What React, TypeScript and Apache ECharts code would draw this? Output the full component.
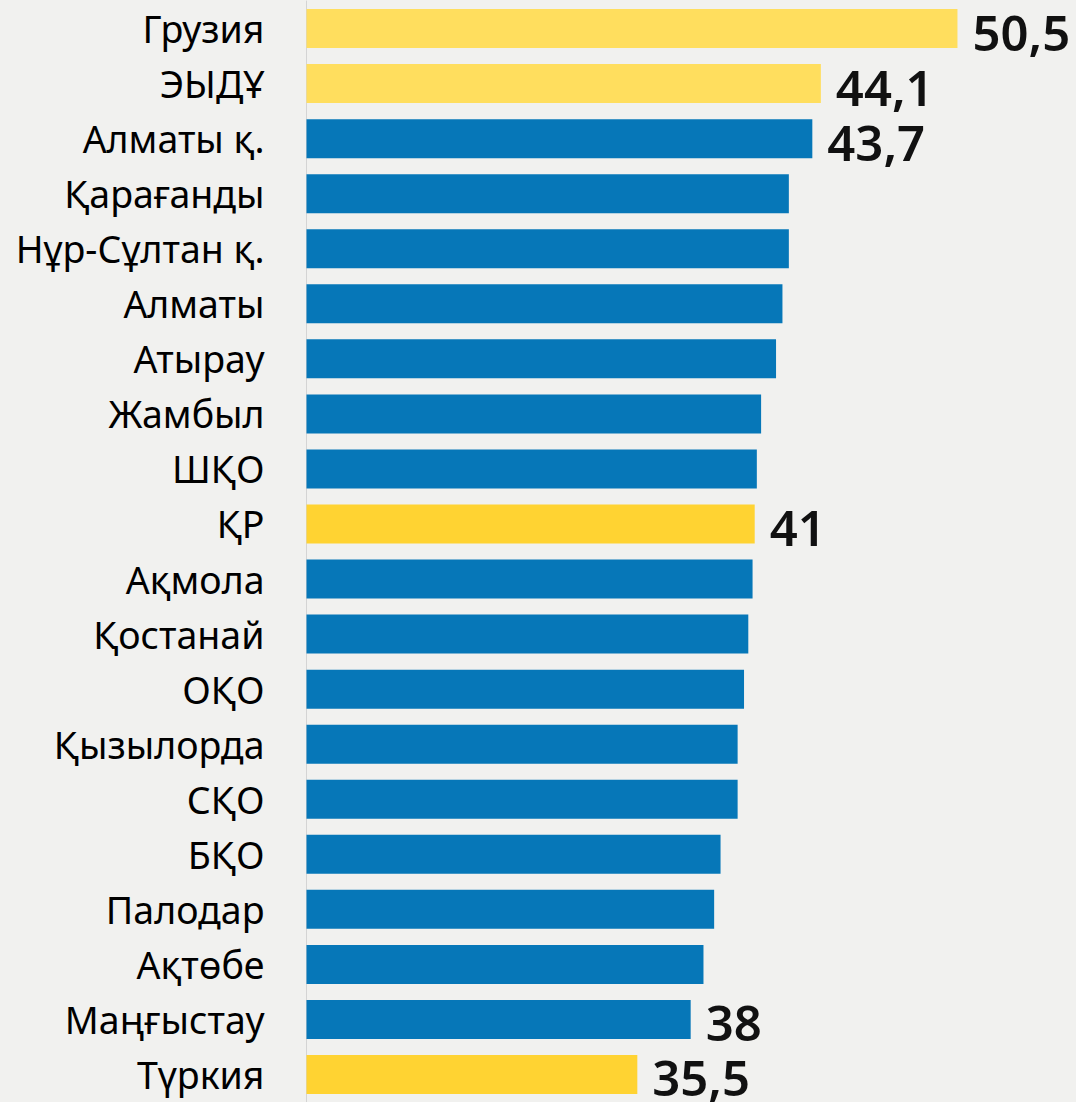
import React, { useEffect, useRef } from "react";
import * as echarts from "echarts";

const categories = [
  "Грузия",
  "ЭЫДҰ",
  "Алматы қ.",
  "Қарағанды",
  "Нұр-Сұлтан қ.",
  "Алматы",
  "Атырау",
  "Жамбыл",
  "ШҚО",
  "ҚР",
  "Ақмола",
  "Қостанай",
  "ОҚО",
  "Қызылорда",
  "СҚО",
  "БҚО",
  "Палодар",
  "Ақтөбе",
  "Маңғыстау",
  "Түркия",
];

const values = [
  50.5, 44.1, 43.7, 42.6, 42.6, 42.3, 42.0, 41.3, 41.1, 41, 40.9, 40.7, 40.5,
  40.2, 40.2, 39.4, 39.1, 38.6, 38, 35.5,
];

// which bars carry a value label
const labelled = ["Грузия", "ЭЫДҰ", "Алматы қ.", "ҚР", "Маңғыстау", "Түркия"];
// colour groups
const lightYellow = ["Грузия", "ЭЫДҰ"];
const strongYellow = ["ҚР", "Түркия"];

const COLOR_BLUE = "#0677B8";
const COLOR_LIGHT_YELLOW = "#FFDE5E";
const COLOR_STRONG_YELLOW = "#FFD332";

export default function App() {
  const ref = useRef<HTMLDivElement>(null);

  useEffect(() => {
    if (!ref.current) return;
    const chart = echarts.init(ref.current, undefined, { renderer: "svg" });

    const data = categories.map((c, i) => {
      const color = lightYellow.includes(c)
        ? COLOR_LIGHT_YELLOW
        : strongYellow.includes(c)
        ? COLOR_STRONG_YELLOW
        : COLOR_BLUE;
      return {
        value: values[i],
        itemStyle: { color },
        label: { show: labelled.includes(c) },
      };
    });

    chart.setOption({
      animation: false,
      backgroundColor: "#F1F1EF",
      grid: { left: 306.5, top: 1, width: 747, height: 1103, containLabel: false },
      xAxis: {
        type: "value",
        min: 20,
        max: 55,
        show: false,
      },
      yAxis: {
        type: "category",
        data: categories,
        inverse: true,
        axisLine: { show: true, lineStyle: { color: "#D4D4D4", width: 1 } },
        axisTick: { show: false },
        splitLine: { show: false },
        axisLabel: {
          margin: 42,
          color: "#000000",
          fontFamily: "Noto Sans",
          fontSize: 37.5,
        },
      },
      series: [
        {
          type: "bar",
          data,
          barWidth: 39,
          label: {
            position: "right",
            distance: 15,
            offset: [0, 3],
            color: "#111111",
            fontFamily: "Noto Sans",
            fontWeight: 600,
            fontSize: 49,
            formatter: (p: any) => String(p.value).replace(".", ","),
          },
        },
      ],
    });

    return () => chart.dispose();
  }, []);

  return (
    <div
      ref={ref}
      style={{ position: "fixed", left: 0, top: 0, width: 1076, height: 1102 }}
    />
  );
}
